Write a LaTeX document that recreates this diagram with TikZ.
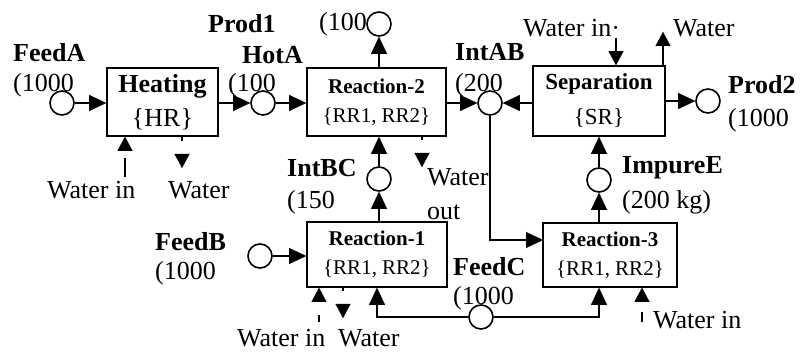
\documentclass[tikz,border=0pt]{standalone}
\usepackage{fontspec}
\setmainfont{Liberation Serif}
\usetikzlibrary{arrows.meta}

\tikzset{
  unit/.style={draw, line width=1.6pt, inner sep=0pt, align=center},
  rxn/.style={font=\fontsize{21}{29}\selectfont},
  strm/.style={circle, draw, line width=1.6pt, minimum size=24pt, inner sep=0pt},
  flow/.style={line width=1.6pt, -{Triangle[length=17pt,width=16pt,line width=0.01pt]}},
  wflow/.style={line width=1.6pt, -{Triangle[length=14pt,width=15pt,line width=0.01pt]}},
  lbl/.style={anchor=west, inner sep=0pt, font=\fontsize{26}{30}\selectfont\bfseries},
  qty/.style={anchor=west, inner sep=0pt},
}

\begin{document}
\begin{tikzpicture}[x=1pt, y=-1pt, font=\fontsize{26}{30}\selectfont]
    \useasboundingbox (0,0) rectangle (800,352);
    % process units
    \node[unit, minimum width=111pt, minimum height=68pt, font=\fontsize{26}{34}\selectfont] (heat) at (162.5,102) {\textbf{Heating}\\\{HR\}};
    \node[unit, rxn, minimum width=139pt, minimum height=68pt] (rx2) at (376.5,102) {\textbf{Reaction-2}\\\{RR1, RR2\}};
    \node[unit, minimum width=132pt, minimum height=70pt, font=\fontsize{23}{35}\selectfont] (sep) at (599,101) {\textbf{Separation}\\\{SR\}};
    \node[unit, rxn, minimum width=140pt, minimum height=65pt] (rx1) at (377,254.5) {\textbf{Reaction-1}\\\{RR1, RR2\}};
    \node[unit, rxn, minimum width=134pt, minimum height=64pt] (rx3) at (610,255) {\textbf{Reaction-3}\\\{RR1, RR2\}};
    % streams
    \node[strm] (feedA) at (62,103) {};
    \node[strm] (hotA) at (263,103) {};
    \node[strm] (prod1) at (379,24) {};
    \node[strm] (intAB) at (490,103) {};
    \node[strm] (prod2) at (708,101) {};
    \node[strm] (intBC) at (379,179) {};
    \node[strm] (impE) at (599,180) {};
    \node[strm] (feedB) at (260,256) {};
    \node[strm] (feedC) at (481,317) {};
    % stream names and amounts
    \node[lbl] (feedAn) at (13,53) {FeedA};
    \node[qty] (feedAq) at (13,85) {(1000};
    \node[lbl] (prod1n) at (208,24) {Prod1};
    \node[qty] (prod1q) at (319,24) {(100};
    \node[lbl] (hotAn) at (242,55) {HotA};
    \node[qty] (hotAq) at (228,85) {(100};
    \node[lbl] (intABn) at (455,52) {IntAB};
    \node[qty] (intABq) at (455,85) {(200};
    \node[lbl] (prod2n) at (728,85) {Prod2};
    \node[qty] (prod2q) at (728,120) {(1000};
    \node[lbl] (intBCn) at (287,168) {IntBC};
    \node[qty] (intBCq) at (287,202) {(150};
    \node[lbl] (impEn) at (622,168) {ImpureE};
    \node[qty] (impEq) at (622,202) {(200 kg)};
    \node[lbl] (feedBn) at (155,242) {FeedB};
    \node[qty] (feedBq) at (155,273) {(1000};
    \node[lbl] (feedCn) at (453,267) {FeedC};
    \node[qty] (feedCq) at (453,298) {(1000};
    % water labels
    \node[qty] (hwin) at (47,190) {Water in};
    \node[qty] (hwout) at (168,190) {Water};
    \node[qty] (r2wout) at (427,177) {Water};
    \node[qty] (r2wout2) at (427,212) {out};
    \node[qty] (swin) at (523,28) {Water in·};
    \node[qty] (swout) at (673,28) {Water};
    \node[qty] (r1win) at (237,338) {Water in};
    \node[qty] (r1wout) at (338,338) {Water};
    \node[qty] (r3win) at (653,320) {Water in};
    % main flows
    \draw[flow] (feedA.east) -- (feedA -| heat.west);
    \draw[flow] (heat.east |- hotA) -- (hotA.west);
    \draw[flow] (hotA.east) -- (hotA -| rx2.west);
    \draw[flow] (prod1 |- rx2.north) -- (prod1.south);
    \draw[flow] (rx2.east |- intAB) -- (intAB.west);
    \draw[flow] (sep.west |- intAB) -- (intAB.east);
    \draw[flow] (sep.east |- prod2) -- (prod2.west);
    \draw[flow] (intBC.north) -- (intBC |- rx2.south);
    \draw[flow] (impE.north) -- (impE |- sep.south);
    \draw[flow] (intBC |- rx1.north) -- (intBC.south);
    \draw[flow] (impE |- rx3.north) -- (impE.south);
    \draw[flow] (feedB.east) -- (feedB -| rx1.west);
    \coordinate (rx3in) at (543,240);
    \draw[flow] (intAB.south) |- (rx3in);
    \draw[flow] (feedC.west) -| (rx1.south);
    \draw[flow] (feedC.east) -| (impE |- rx3.south);
    % water in and out
    \coordinate (hwi) at (125,177);
    \coordinate (hwo) at (182,168);
    \draw[wflow, dash pattern=on 19pt off 40pt] (hwi) -- (hwi |- heat.south);
    \draw[wflow, dash pattern=on 4pt off 40pt] (hwo |- heat.south) -- (hwo);
    \coordinate (r2wo) at (422,167);
    \draw[wflow, dash pattern=on 3pt off 40pt] (r2wo |- rx2.south) -- (r2wo);
    \coordinate (swi) at (616,38);
    \coordinate (swo) at (663,32);
    \draw[wflow] (swi) -- (swi |- sep.north);
    \draw[wflow] (swo |- sep.north) -- (swo);
    \coordinate (r1wi) at (319,322);
    \coordinate (r1wo) at (343,318);
    \draw[wflow, dash pattern=on 7pt off 40pt] (r1wi) -- (r1wi |- rx1.south);
    \draw[wflow, dash pattern=on 3pt off 40pt] (r1wo |- rx1.south) -- (r1wo);
    \coordinate (r3wi) at (642,322);
    \draw[wflow, dash pattern=on 10pt off 40pt] (r3wi) -- (r3wi |- rx3.south);
\end{tikzpicture}
\end{document}
